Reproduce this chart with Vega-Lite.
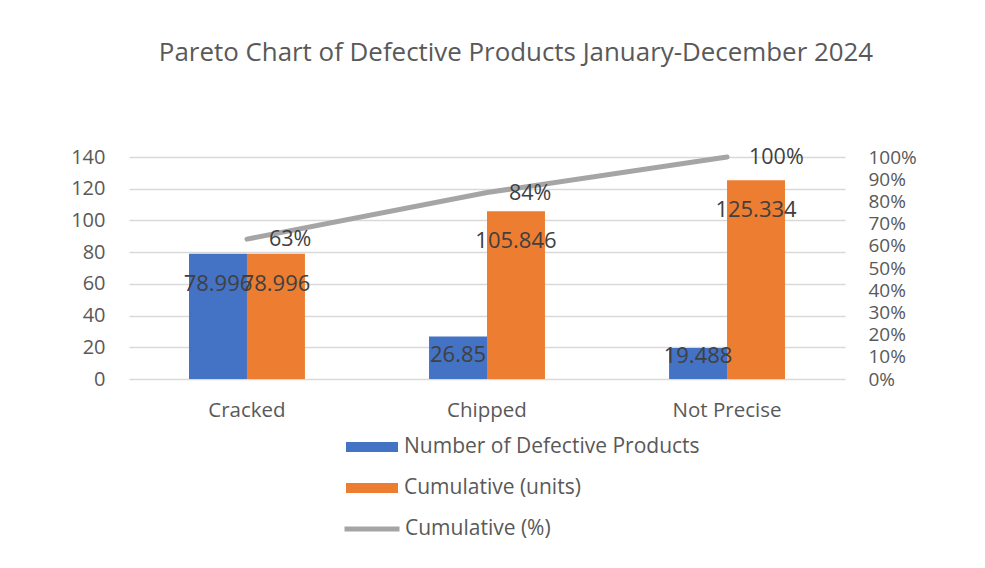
{
  "$schema": "https://vega.github.io/schema/vega-lite/v6.json",
  "autosize": "none",
  "width": 716,
  "height": 222,
  "padding": {"left": 129, "top": 157, "right": 140, "bottom": 189},
  "background": "white",
  "title": {
    "text": "Pareto Chart of Defective Products January-December 2024",
    "font": "Open Sans",
    "fontSize": 25.9,
    "fontWeight": "normal",
    "color": "#595959",
    "anchor": "middle",
    "frame": "group",
    "offset": 80,
    "dx": 29
  },
  "config": {
    "view": {"stroke": null},
    "font": "Open Sans",
    "axis": {
      "labelFont": "Open Sans",
      "labelFontSize": 20,
      "labelColor": "#595959",
      "ticks": false,
      "domain": false,
      "gridColor": "#D9D9D9",
      "gridWidth": 1.5,
      "title": null
    },
    "legend": {
      "labelFont": "Open Sans",
      "labelFontSize": 21,
      "labelColor": "#595959",
      "labelLimit": 500,
      "title": null,
      "orient": "none",
      "direction": "vertical"
    }
  },
  "datasets": {
    "bars": [
      {"category": "Cracked", "series": "Number of Defective Products", "value": 78.996},
      {"category": "Cracked", "series": "Cumulative (units)", "value": 78.996},
      {"category": "Chipped", "series": "Number of Defective Products", "value": 26.85},
      {"category": "Chipped", "series": "Cumulative (units)", "value": 105.846},
      {"category": "Not Precise", "series": "Number of Defective Products", "value": 19.488},
      {"category": "Not Precise", "series": "Cumulative (units)", "value": 125.334}
    ],
    "cum": [
      {"category": "Cracked", "series": "Cumulative (%)", "pct": 0.63},
      {"category": "Chipped", "series": "Cumulative (%)", "pct": 0.84},
      {"category": "Not Precise", "series": "Cumulative (%)", "pct": 1.0}
    ]
  },
  "layer": [
    {
      "data": {"name": "bars"},
      "encoding": {
        "x": {
          "field": "category",
          "type": "nominal",
          "sort": ["Cracked", "Chipped", "Not Precise"],
          "scale": {"paddingInner": 0.517, "paddingOuter": 0.25},
          "axis": {"labelAngle": 0, "labelPadding": 21, "grid": false, "labelBaseline": "top", "labelFontSize": 20.5}
        },
        "xOffset": {
          "field": "series",
          "type": "nominal",
          "sort": ["Number of Defective Products", "Cumulative (units)"],
          "scale": {"paddingInner": 0, "paddingOuter": 0}
        },
        "y": {
          "field": "value",
          "type": "quantitative",
          "scale": {"domain": [0, 140]},
          "axis": {"orient": "left", "values": [0, 20, 40, 60, 80, 100, 120, 140], "labelPadding": 24, "grid": true}
        }
      },
      "layer": [
        {
          "mark": {"type": "bar"},
          "encoding": {
            "color": {
              "field": "series",
              "type": "nominal",
              "scale": {"domain": ["Number of Defective Products", "Cumulative (units)"], "range": ["#4472C4", "#ED7D31"]},
              "legend": {
                "legendX": 217,
                "legendY": 264,
                "symbolType": "M-1,-0.19H1V0.19H-1Z",
                "symbolSize": 2704,
                "symbolStrokeWidth": 0,
                "labelOffset": 6,
                "rowPadding": 5
              }
            }
          }
        },
        {
          "transform": [{"filter": "datum.series === 'Cumulative (units)' || datum.category === 'Cracked'"}],
          "mark": {"type": "text", "baseline": "middle", "align": "center", "dy": 30, "fontSize": 22, "font": "Open Sans", "color": "#404040"},
          "encoding": {"text": {"field": "value", "type": "nominal"}}
        },
        {
          "transform": [{"filter": "datum.series === 'Number of Defective Products' && datum.category === 'Chipped'"}],
          "mark": {"type": "text", "baseline": "middle", "align": "center", "dy": 19, "fontSize": 22, "font": "Open Sans", "color": "#404040"},
          "encoding": {"text": {"field": "value", "type": "nominal"}}
        },
        {
          "transform": [{"filter": "datum.series === 'Number of Defective Products' && datum.category === 'Not Precise'"}],
          "mark": {"type": "text", "baseline": "middle", "align": "center", "dy": 8, "fontSize": 22, "font": "Open Sans", "color": "#404040"},
          "encoding": {"text": {"field": "value", "type": "nominal"}}
        }
      ]
    },
    {
      "data": {"name": "cum"},
      "encoding": {
        "x": {"field": "category", "type": "nominal", "sort": ["Cracked", "Chipped", "Not Precise"]},
        "y": {
          "field": "pct",
          "type": "quantitative",
          "scale": {"domain": [0, 1]},
          "axis": {"orient": "right", "format": ".0%", "values": [0, 0.1, 0.2, 0.3, 0.4, 0.5, 0.6, 0.7, 0.8, 0.9, 1.0], "labelPadding": 23, "grid": false, "labelFontSize": 19}
        }
      },
      "layer": [
        {
          "mark": {"type": "line", "strokeWidth": 5, "strokeCap": "round"},
          "encoding": {
            "stroke": {
              "field": "series",
              "type": "nominal",
              "scale": {"domain": ["Cumulative (%)"], "range": ["#A5A5A5"]},
              "legend": {
                "legendX": 213,
                "legendY": 342,
                "symbolType": "stroke",
                "symbolSize": 3025,
                "symbolStrokeWidth": 5,
                "labelOffset": 3
              }
            }
          }
        },
        {
          "mark": {"type": "text", "align": "left", "baseline": "middle", "dx": 22, "dy": 1, "fontSize": 21.5, "font": "Open Sans", "color": "#404040"},
          "encoding": {"text": {"field": "pct", "type": "quantitative", "format": ".0%"}}
        }
      ]
    }
  ],
  "resolve": {"scale": {"y": "independent"}}
}
